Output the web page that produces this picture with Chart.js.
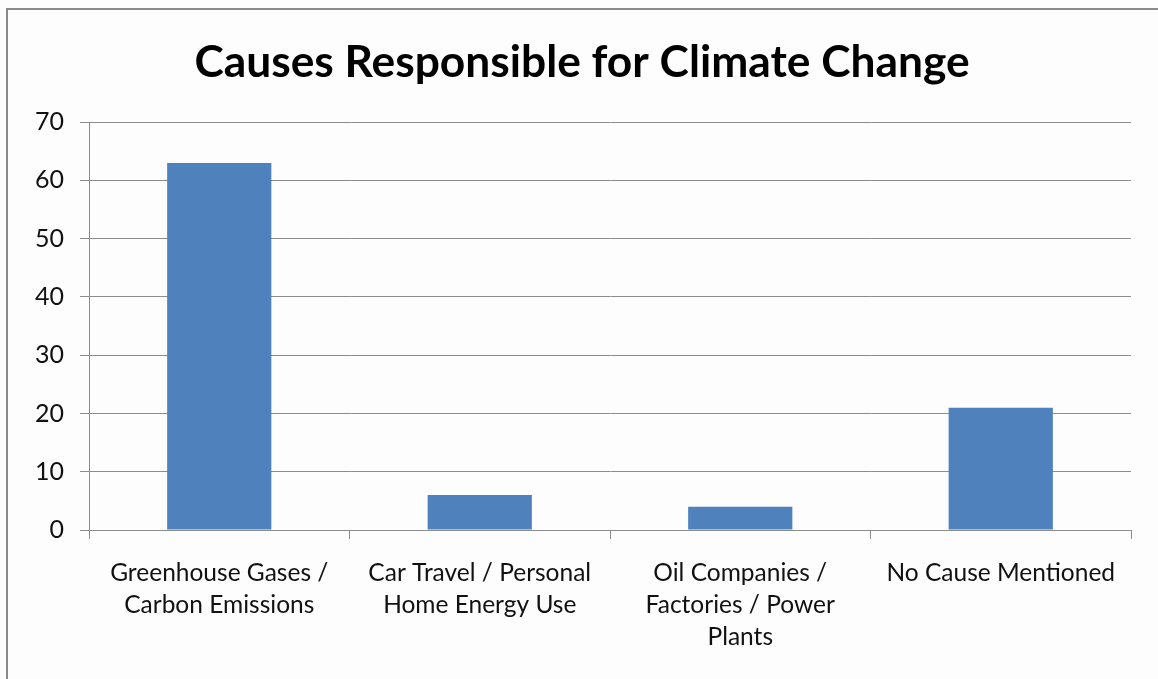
<!DOCTYPE html>
<html>
<head>
<meta charset="utf-8">
<script src="https://cdn.jsdelivr.net/npm/chart.js@4/dist/chart.umd.min.js"></script>
<style>
  html, body { margin: 0; padding: 0; background: #fdfdfd; }
  #frame {
    position: absolute; left: 6px; top: 8px; width: 1152px; height: 671px;
    border-left: 2px solid #8a8a8a; border-top: 2px solid #8a8a8a;
    box-sizing: border-box;
  }
  #wrap { position: absolute; left: 0; top: 0; width: 1158px; height: 679px; }
</style>
</head>
<body>
<div id="frame"></div>
<div id="wrap"><canvas id="chart" width="1158" height="679"></canvas></div>
<script>
const categories = [
  ["Greenhouse Gases /", "Carbon Emissions"],
  ["Car Travel / Personal", "Home Energy Use"],
  ["Oil Companies /", "Factories / Power", "Plants"],
  ["No Cause Mentioned"]
];
const values = [63, 6, 4, 21];
const yTicks = [0, 10, 20, 30, 40, 50, 60, 70];

const fontFamily = "Lato, 'Open Sans', sans-serif";
const gridColor = '#8c8c8c';

new Chart(document.getElementById('chart'), {
  type: 'bar',
  data: {
    labels: categories,
    datasets: [{
      data: values,
      backgroundColor: '#4f81bd',
      borderWidth: 0,
      barPercentage: 0.4,
      categoryPercentage: 1
    }]
  },
  options: {
    responsive: false,
    animation: false,
    layout: { padding: { left: 33, right: 27, top: 0, bottom: 0 } },
    plugins: {
      legend: { display: false },
      tooltip: { enabled: false },
      title: {
        display: true,
        text: 'Causes Responsible for Climate Change',
        color: '#000',
        font: { family: fontFamily, size: 44.3, weight: 'bold', lineHeight: 1.2 },
        padding: { top: 36, bottom: 33 }
      }
    },
    scales: {
      y: {
        min: 0, max: 70,
        afterFit(scale) { scale.width = 56; },
        afterBuildTicks(scale) { scale.ticks = yTicks.map(v => ({ value: v })); },
        ticks: { color: '#111', font: { family: fontFamily, size: 25 }, padding: 16 },
        grid: { color: gridColor, lineWidth: 1, tickLength: 9, drawTicks: true },
        border: { color: gridColor, width: 1 }
      },
      x: {
        afterFit(scale) { scale.height = 149; },
        ticks: { color: '#111', font: { family: fontFamily, size: 24.5, lineHeight: 1.306 }, padding: 18, maxRotation: 0 },
        grid: { offset: true, drawOnChartArea: false, drawTicks: true, tickLength: 9, color: gridColor },
        border: { color: gridColor, width: 1 }
      }
    }
  }
});
</script>
</body>
</html>
